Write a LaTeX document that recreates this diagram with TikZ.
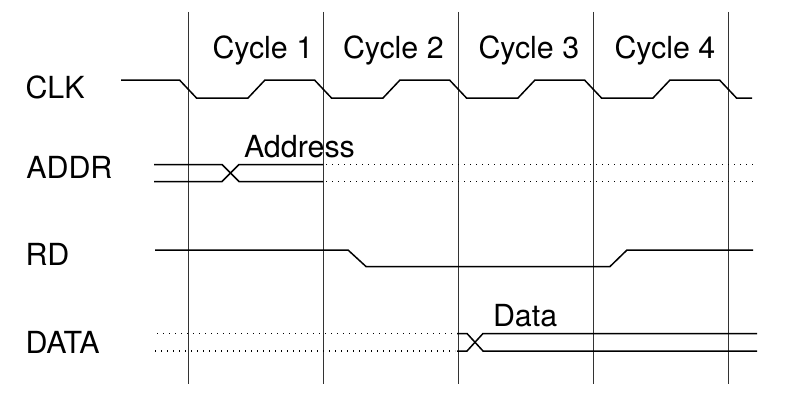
\documentclass[tikz,border=0pt]{standalone}
\usepackage{fontspec}
\setmainfont{TeX Gyre Heros}
\begin{document}
\begin{tikzpicture}[x=1pt,y=-1pt,
  lbl/.style={inner sep=0pt,outer sep=0pt,anchor=base west,font=\fontsize{30.4}{36}\selectfont},
  sig/.style={line width=1.5pt,line join=miter,black},
  dotsig/.style={line width=1.2pt,dash pattern=on 1.2pt off 4.8pt,black},
  grid/.style={line width=0.9pt,black!80}]
\useasboundingbox (0,0) rectangle (786,412);
\fill[white] (0,0) rectangle (786,412);
% vertical cycle lines
\foreach \x in {188,323,458,593,728}{\draw[grid] (\x,12) -- (\x,384);}
% labels
\node[lbl] (clk)  at (25.5,98.3) {CLK};
\node[lbl] (addr) at (26.3,178.8) {ADDR};
\node[lbl] (rd)   at (25.5,265.5) {RD};
\node[lbl] (data) at (25.5,353.8) {DATA};
\node[lbl] (c1) at (212.5,58.5) {Cycle 1};
\node[lbl] (c2) at (343,58.5) {Cycle 2};
\node[lbl] (c3) at (478.5,58.5) {Cycle 3};
\node[lbl] (c4) at (614.5,58.5) {Cycle 4};
\node[lbl] (addrl) at (244,157.3) {Address};
\node[lbl] (datal) at (493,326.5) {Data};
% CLK
\draw[sig] (121,80) -- (179.5,80) -- (196.5,98) -- (248,98) -- (265,80) -- (314.5,80) -- (331.5,98)
  -- (383,98) -- (400,80) -- (449.5,80) -- (466.5,98) -- (518,98) -- (535,80) -- (584.5,80)
  -- (601.5,98) -- (653,98) -- (670,80) -- (719.5,80) -- (736.5,98) -- (752,98);
% ADDR
\draw[sig] (154,164.5) -- (222,164.5) -- (239,181.5) -- (323,181.5);
\draw[sig] (154,181.5) -- (222,181.5) -- (239,164.5) -- (323,164.5);
\draw[dotsig] (326,164.5) -- (757,164.5);
\draw[dotsig] (326,181.5) -- (757,181.5);
% RD
\draw[sig] (155,250) -- (348,250) -- (366,266.5) -- (610,266.5) -- (627,250) -- (753,250);
% DATA
\draw[dotsig] (157,333.5) -- (455,333.5);
\draw[dotsig] (155,351) -- (455,351);
\draw[sig] (457,333.5) -- (467,333.5) -- (483,351) -- (757,351);
\draw[sig] (457,351) -- (467,351) -- (483,333.5) -- (757,333.5);
\end{tikzpicture}
\end{document}
